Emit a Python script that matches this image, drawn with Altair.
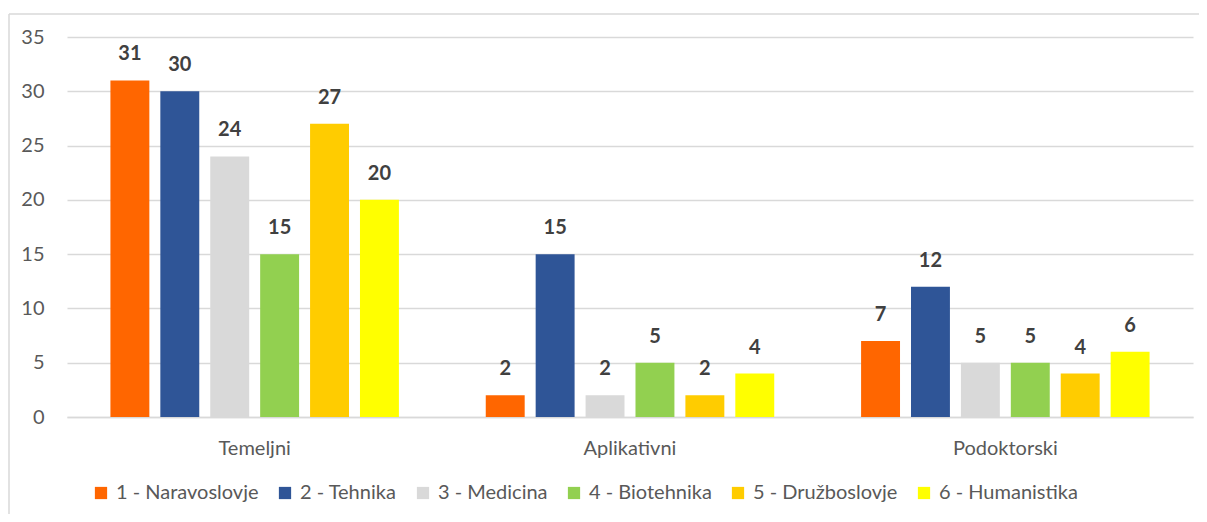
import altair as alt
import pandas as pd

groups = ["Temeljni", "Aplikativni", "Podoktorski"]
series = ["1 - Naravoslovje", "2 - Tehnika", "3 - Medicina",
          "4 - Biotehnika", "5 - Družboslovje", "6 - Humanistika"]
colors = ["#FF6600", "#2F5597", "#D9D9D9", "#92D050", "#FFCC00", "#FFFF00"]
temeljni = [31, 30, 24, 15, 27, 20]
aplikativni = [2, 15, 2, 5, 2, 4]
podoktorski = [7, 12, 5, 5, 4, 6]
y_ticks = [0, 5, 10, 15, 20, 25, 30, 35]

rows = []
for g, vals in zip(groups, [temeljni, aplikativni, podoktorski]):
    for s, v in zip(series, vals):
        rows.append({"group": g, "series": s, "value": v})
df = pd.DataFrame(rows)

FONT = "Lato"
FS = 20
W, H = 1126, 380
PAD = {"left": 59, "top": 29, "right": 6, "bottom": 97}

x = alt.X("group:N", sort=groups, title=None,
          scale=alt.Scale(paddingInner=0, paddingOuter=0),
          axis=alt.Axis(labelAngle=0, ticks=False, domainColor="#D9D9D9",
                        domainWidth=1.5, labelColor="#595959", labelFontSize=FS,
                        labelFont=FONT, labelPadding=21, grid=False))
xo = alt.XOffset("series:N", sort=series,
                 scale=alt.Scale(paddingInner=0.22, paddingOuter=0.87))
y = alt.Y("value:Q", title=None,
          scale=alt.Scale(domain=[0, 35], nice=False),
          axis=alt.Axis(values=y_ticks, domain=False, ticks=False,
                        gridColor="#D9D9D9", gridWidth=1.5,
                        labelColor="#595959", labelFontSize=FS, labelFont=FONT,
                        labelPadding=23))

bars = alt.Chart(df).mark_bar().encode(
    x=x, xOffset=xo, y=y,
    color=alt.Color("series:N", sort=series,
                    scale=alt.Scale(domain=series, range=colors),
                    legend=alt.Legend(title=None, orient="none", direction="horizontal",
                                      legendX=24, legendY=446, columns=6,
                                      symbolType="square", symbolSize=150,
                                      symbolStrokeWidth=0, labelFont=FONT,
                                      labelFontSize=FS, labelColor="#595959",
                                      labelOffset=5, columnPadding=16,
                                      labelLimit=300)),
)

labels = alt.Chart(df).mark_text(
    dy=-26, baseline="middle", fontWeight="bold", fontSize=FS,
    font=FONT, color="#404040"
).encode(x=x, xOffset=xo, y=y, text="value:Q")

one = pd.DataFrame({"a": [0]})
top_line = alt.Chart(one).mark_rule(color="#D9D9D9", strokeWidth=1.5, clip=False).encode(
    x=alt.value(-58), x2=alt.value(W + PAD["right"]), y=alt.value(-23))
left_line = alt.Chart(one).mark_rule(color="#D9D9D9", strokeWidth=1.5, clip=False).encode(
    x=alt.value(-58), y=alt.value(-23), y2=alt.value(H + PAD["bottom"]))

chart = alt.layer(top_line, left_line, bars, labels).properties(
    width=W, height=H,
    padding=PAD,
    autosize=alt.AutoSizeParams(type="none"),
).configure_view(stroke=None)

chart.save("out.html", embed_options={"renderer": "svg", "actions": False})
